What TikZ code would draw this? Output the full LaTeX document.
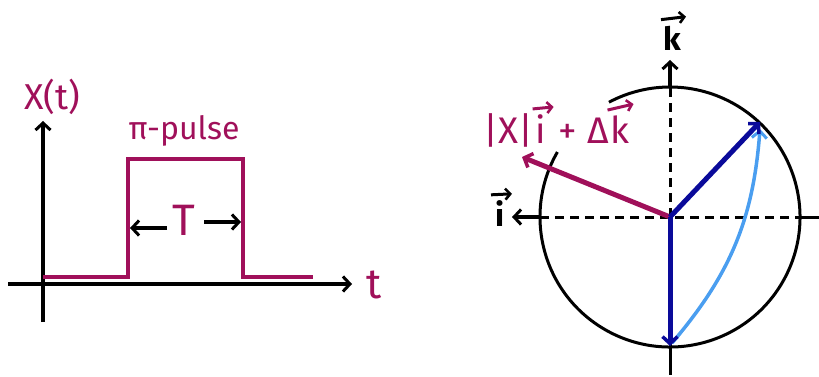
\documentclass[tikz,border=0pt]{standalone}
\usepackage{fontspec}
\setmainfont{Fira Sans}
\usetikzlibrary{arrows.meta}
\definecolor{mag}{HTML}{A0105A}
\definecolor{navy}{HTML}{0A0A9A}
\definecolor{sky}{HTML}{4A9EF0}
\begin{document}
\begin{tikzpicture}[x=1pt,y=-1pt,
  tip/.style={-{Straight Barb[length=7pt,width=15pt,line width=3pt]}},
  axis/.style={line width=3.2pt, tip},
  plain/.style={line width=3pt},
  dash axis/.style={line width=3pt, dash pattern=on 9pt off 6pt},
  pulse/.style={mag, line width=3.4pt},
  vec/.style={line width=5pt, -{Straight Barb[length=7pt,width=15pt,line width=3.5pt]}},
  over/.style={line width=3pt, -{Straight Barb[length=5pt,width=11pt,line width=2.6pt]}},
  lbl/.style={inner sep=0pt, font=\fontsize{36}{38}\selectfont},
  mlbl/.style={lbl, text=mag},
  vlbl/.style={inner sep=0pt, font=\fontsize{32}{34}\selectfont\bfseries},
  seg/.style={mlbl, font=\fontsize{37}{39}\selectfont, anchor=base west}]
\useasboundingbox (0,0) rectangle (819,377);
% ---- left plot ----
\coordinate (xs) at (8,284);
\coordinate (xe) at (352,284);
\coordinate (ys) at (43,322);
\coordinate (ye) at (43,121);
\draw[axis] (xs) -- (xe);
\draw[axis] (ys) -- (ye);
\coordinate (p0) at (43,277);
\coordinate (p1) at (128,277);
\coordinate (p2) at (128,159);
\coordinate (p3) at (243,159);
\coordinate (p4) at (243,277);
\coordinate (p5) at (313,277);
\draw[pulse] (p0) -- (p1) -- (p2) -- (p3) -- (p4) -- (p5);
\node[mlbl] (xt) at (52,97) {X(t)};
\node[mlbl, font=\fontsize{32}{34}\selectfont] (pp) at (184,131) {π-pulse};
\node[mlbl, font=\fontsize{44}{46}\selectfont] (T) at (184,220) {T};
\node[mlbl, font=\fontsize{42}{44}\selectfont] (t) at (374,285) {t};
\coordinate (la) at (167,228);
\coordinate (lb) at (130,228);
\coordinate (ra) at (204,222);
\coordinate (rb) at (241,222);
\draw[axis] (la) -- (lb);
\draw[axis] (ra) -- (rb);
% ---- right plot ----
\coordinate (c) at (670,217);
\draw[plain] (c) ++(-150:130) arc (-150:-478:130);
\coordinate (vtop) at (670,87);
\coordinate (vtip) at (670,60);
\coordinate (vbot) at (670,375);
\coordinate (hleft) at (540,217);
\coordinate (htip) at (512,217);
\coordinate (hright) at (800,217);
\coordinate (hend) at (819,217);
\draw[axis] (vtop) -- (vtip);
\draw[dash axis] (c) -- (vtop);
\draw[plain] (c) -- (vbot);
\draw[axis] (hleft) -- (htip);
\draw[dash axis] (hleft) -- (hright);
\draw[plain] (hright) -- (hend);
% axis labels with vector arrows
\node[vlbl] (klab) at (672,38) {k};
\draw[over] ([xshift=-11pt,yshift=6pt]klab.north) -- ([xshift=14pt,yshift=9pt]klab.north);
\node[vlbl] (ilab) at (500,214) {i};
\draw[over] ([xshift=-9pt,yshift=6pt]ilab.north) -- ([xshift=12pt,yshift=7pt]ilab.north);
% magenta vector and its label
\coordinate (mtip) at (522,157);
\draw[vec, mag] (c) -- (mtip);
\node[seg] (m1) at (483,143) {|X|};
\node[seg] (m2) at ([xshift=2pt]m1.base east) {i};
\node[seg] (m3) at ([xshift=12pt]m2.base east) {+};
\node[seg] (m4) at ([xshift=10pt]m3.base east) {Δ};
\node[seg] (m5) at ([xshift=1pt]m4.base east) {k};
\draw[over, mag] ([xshift=-8pt,yshift=5pt]m2.north) -- ([xshift=13pt,yshift=7pt]m2.north);
\draw[over, mag] ([xshift=-12pt,yshift=5pt]m5.north) -- ([xshift=14pt,yshift=11pt]m5.north);
% blue vectors
\coordinate (bup) at (760,122);
\coordinate (bdown) at (670,346);
\coordinate (sbot) at (672,343);
\coordinate (stop) at (760,129);
\draw[sky, line width=3.5pt, -{Straight Barb[length=7pt,width=15pt,line width=3pt]}] (sbot) to[bend right=18] (stop);
\draw[vec, navy] (c) -- (bup);
\draw[vec, navy] (c) -- (bdown);
\end{tikzpicture}
\end{document}
